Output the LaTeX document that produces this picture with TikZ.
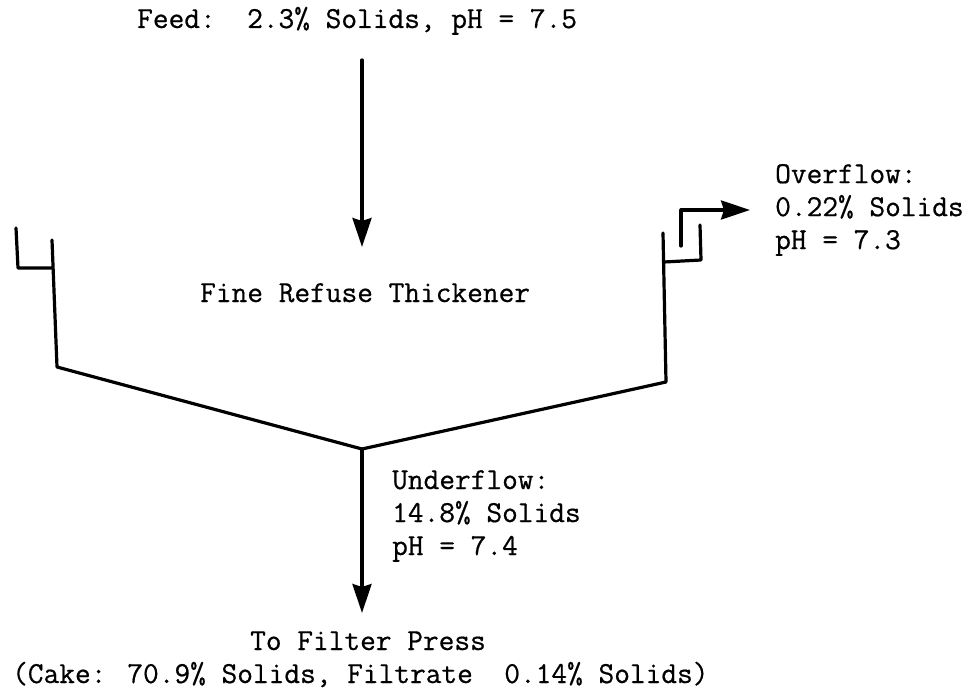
\documentclass[tikz,border=0pt]{standalone}
\usepackage{fontspec}
\newfontfamily\typewriter{Latin Modern Mono}[FakeBold=0.6]
\usetikzlibrary{arrows.meta}
\tikzset{
 lab/.style={inner sep=0pt,font=\typewriter\fontsize{30.5}{33}\selectfont,text=black},
 pipe/.style={line width=3.2pt,draw=black,line cap=round,line join=round},
 flow/.style={pipe,-{Stealth[length=29pt,width=19pt,inset=3pt]}}
}
\begin{document}
\begin{tikzpicture}[x=1pt,y=-1pt]
\useasboundingbox (0,0) rectangle (976,692);
\fill[white] (0,0) rectangle (976,692);
\node[lab,anchor=base west] (feed) at (137,28) {Feed:~~2.3\% Solids, pH = 7.5};
\coordinate (fs) at (362,60);
\coordinate (fe) at (362,247);
\draw[flow] (fs) -- (fe);
\node[lab,anchor=base west] (title) at (200,302) {Fine Refuse Thickener};
\coordinate (a) at (16,228);
\coordinate (b) at (18,268);
\coordinate (c) at (52,268);
\coordinate (d) at (52,240);
\coordinate (e) at (57,367);
\coordinate (f) at (362,449);
\coordinate (g) at (666,382);
\coordinate (h) at (663,233);
\draw[pipe] (a) -- (b) -- (c);
\draw[pipe] (d) -- (e) -- (f) -- (g) -- (h);
\coordinate (i) at (664,262);
\coordinate (j) at (701,260);
\coordinate (k) at (700,225);
\coordinate (l) at (681,246);
\coordinate (m) at (681,210);
\coordinate (n) at (750,210);
\draw[pipe] (i) -- (j) -- (k);
\draw[flow] (l) -- (m) -- (n);
\node[lab,anchor=west,align=left] (over) at (775,210) {Overflow:\\0.22\% Solids\\pH = 7.3};
\coordinate (ue) at (362,613);
\draw[flow] (f) -- (ue);
\node[lab,anchor=west,align=left] (under) at (392,516) {Underflow:\\14.8\% Solids\\pH = 7.4};
\node[lab,anchor=base west] (to) at (250,650) {To Filter Press};
\node[lab,anchor=base west] (cake) at (12,683) {(Cake: 70.9\% Solids, Filtrate~~0.14\% Solids)};
\end{tikzpicture}
\end{document}
